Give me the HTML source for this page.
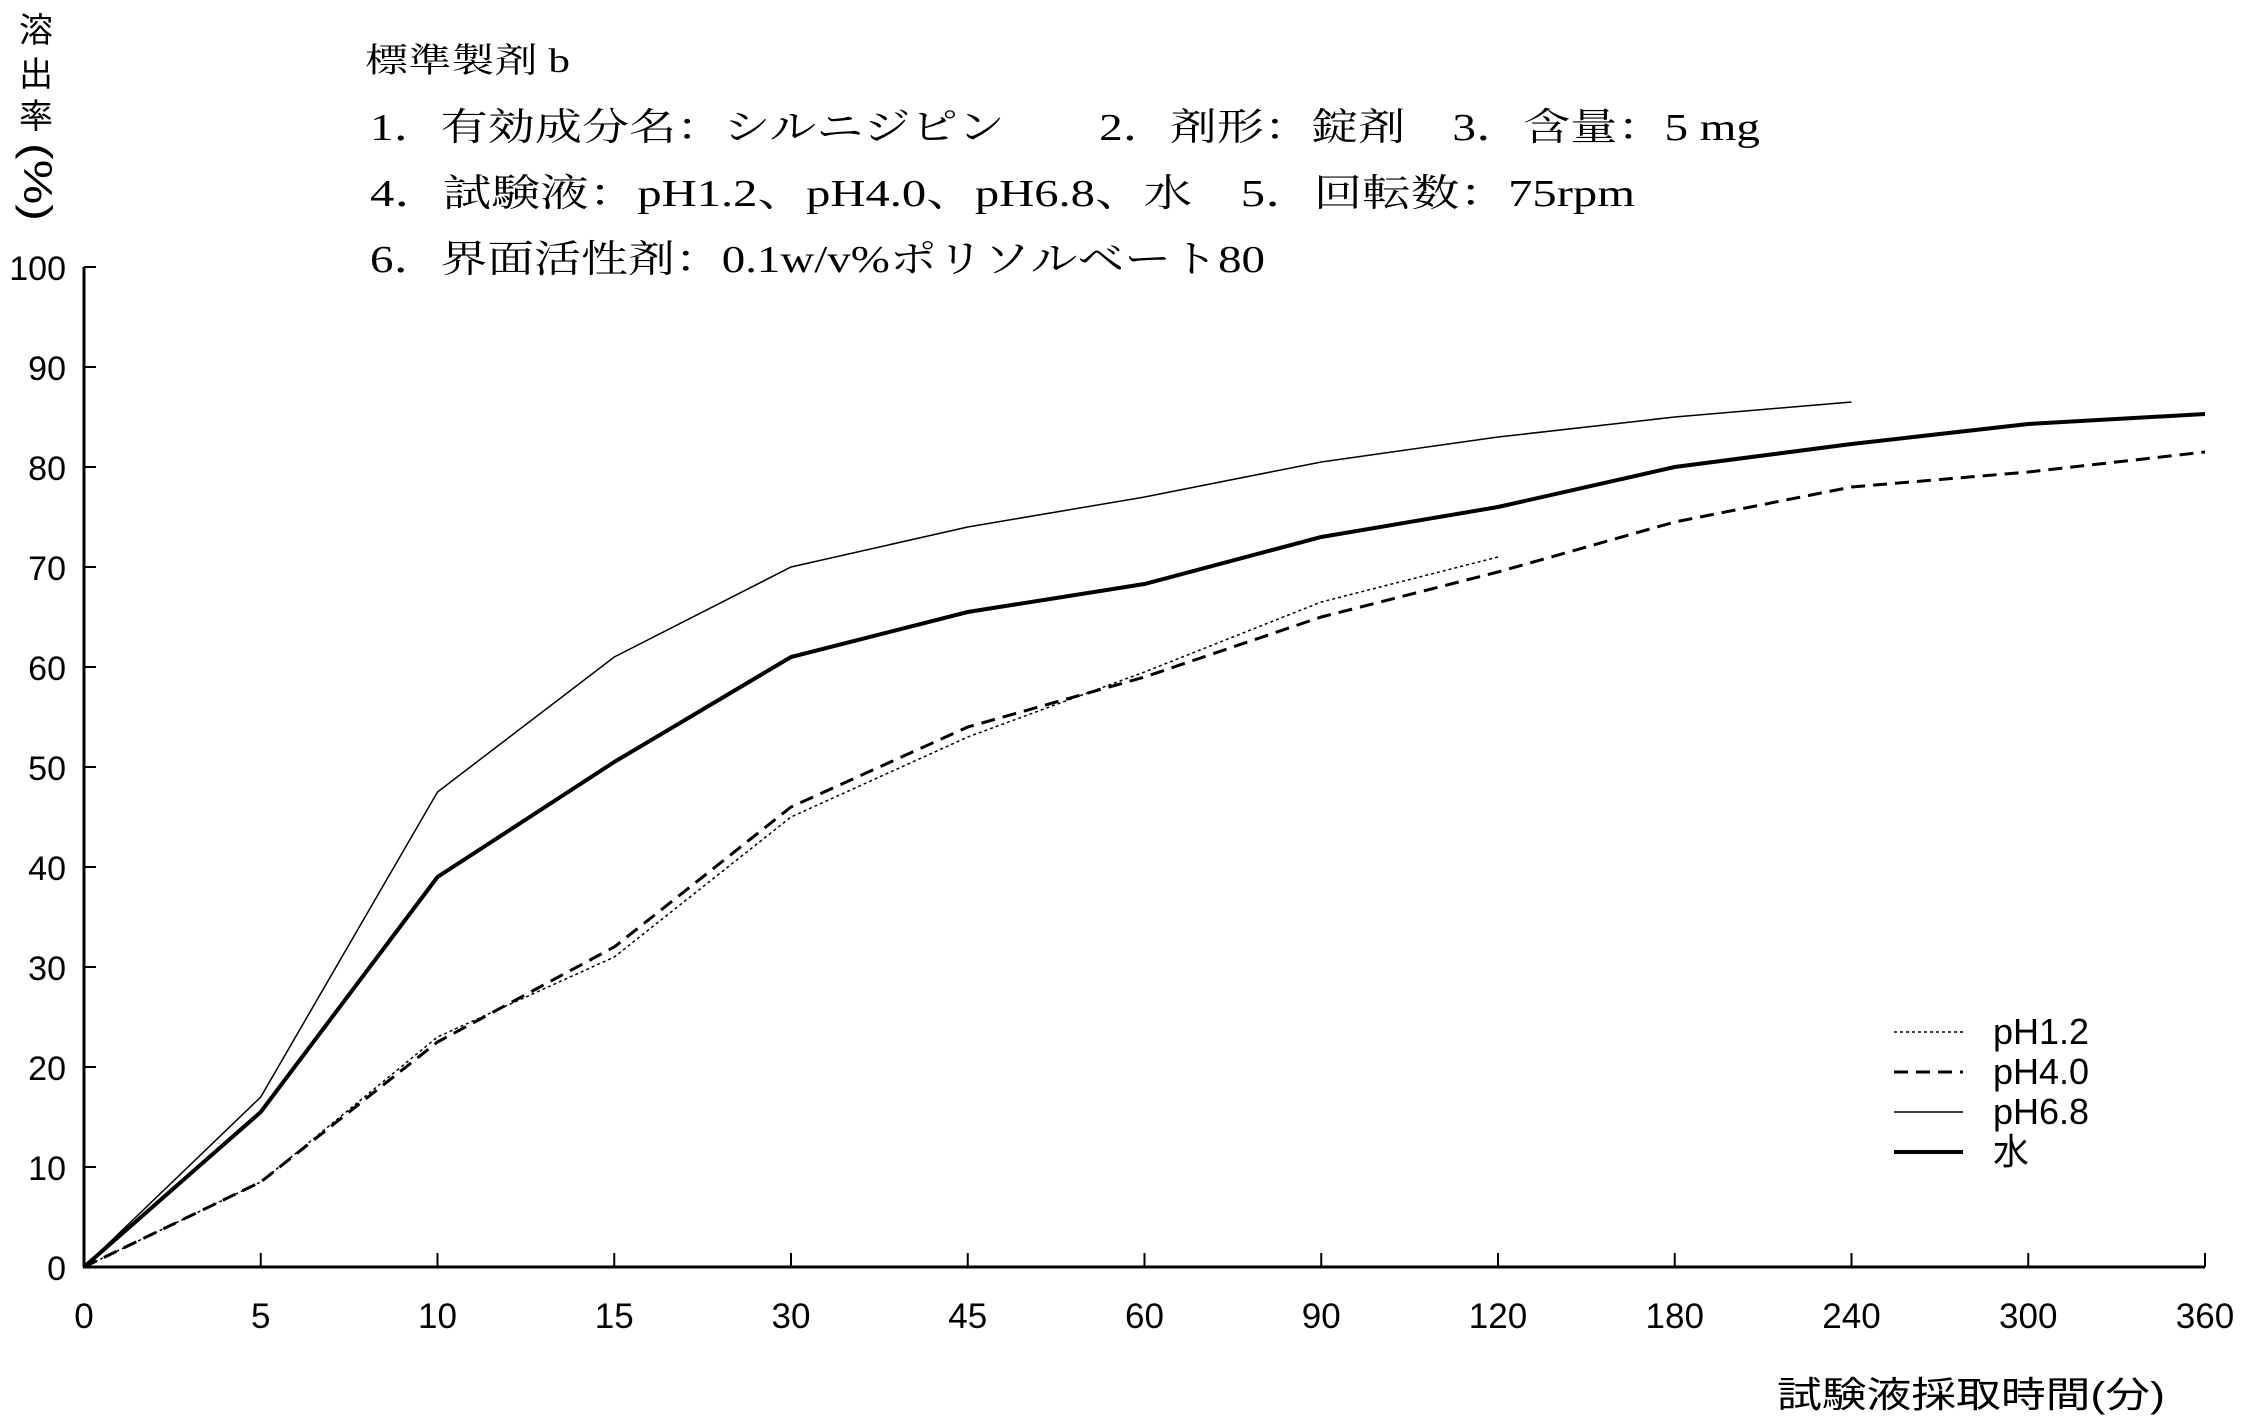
<!DOCTYPE html>
<html><head><meta charset="utf-8"><style>
html,body{margin:0;padding:0;background:#fff;}
svg{display:block;}
text{font-family:"Liberation Serif","Noto Serif CJK SC","Noto Sans CJK JP",serif;fill:#000;}
.t{font-family:"Liberation Sans","Noto Sans CJK JP",sans-serif;}
</style></head><body>
<svg width="2243" height="1417" viewBox="0 0 2243 1417" xmlns="http://www.w3.org/2000/svg">
<rect width="2243" height="1417" fill="#fff"/>
<!-- header -->
<text x="365" y="72" font-size="34" textLength="205" lengthAdjust="spacingAndGlyphs">標準製剤 b</text>
<text x="370" y="140" font-size="38" textLength="1390" lengthAdjust="spacingAndGlyphs">1．有効成分名：シルニジピン　　2．剤形：錠剤　3．含量：5 mg</text>
<text x="370" y="206" font-size="38" textLength="1265" lengthAdjust="spacingAndGlyphs">4．試験液：pH1.2、pH4.0、pH6.8、水　5．回転数：75rpm</text>
<text x="370" y="272" font-size="38" textLength="895" lengthAdjust="spacingAndGlyphs">6．界面活性剤：0.1w/v%ポリソルベート80</text>
<!-- y label -->
<g class="t" font-size="34" text-anchor="middle">
<text x="36" y="42" class="t">溶</text>
<text x="36" y="86" class="t">出</text>
<text x="36" y="128" class="t">率</text>
<text x="36" y="194" class="t" font-size="40" transform="rotate(90 36 182)" textLength="78" lengthAdjust="spacingAndGlyphs">(%)</text>
</g>
<!-- axes -->
<g stroke="#000" stroke-width="3" fill="none">
<line x1="84" y1="267" x2="84" y2="1267"/>
<line x1="83" y1="1267" x2="2205" y2="1267"/>
</g>
<g stroke="#000" stroke-width="2">
<line x1="84" y1="267" x2="96" y2="267"/>
<line x1="84" y1="367" x2="96" y2="367"/>
<line x1="84" y1="467" x2="96" y2="467"/>
<line x1="84" y1="567" x2="96" y2="567"/>
<line x1="84" y1="667" x2="96" y2="667"/>
<line x1="84" y1="767" x2="96" y2="767"/>
<line x1="84" y1="867" x2="96" y2="867"/>
<line x1="84" y1="967" x2="96" y2="967"/>
<line x1="84" y1="1067" x2="96" y2="1067"/>
<line x1="84" y1="1167" x2="96" y2="1167"/>
</g>
<g stroke="#000" stroke-width="2" id="xt"></g>
<g class="t" font-size="34" text-anchor="end">
<text x="66" y="280" class="t">100</text>
<text x="66" y="380" class="t">90</text>
<text x="66" y="480" class="t">80</text>
<text x="66" y="580" class="t">70</text>
<text x="66" y="680" class="t">60</text>
<text x="66" y="780" class="t">50</text>
<text x="66" y="880" class="t">40</text>
<text x="66" y="980" class="t">30</text>
<text x="66" y="1080" class="t">20</text>
<text x="66" y="1180" class="t">10</text>
<text x="66" y="1280" class="t">0</text>
</g>
<g id="xl" class="t" font-size="35" text-anchor="middle"></g>
<text x="1777" y="1407" font-size="36" class="t" textLength="388" lengthAdjust="spacingAndGlyphs">試験液採取時間(分)</text>
<g id="series" fill="none" stroke="#000"></g>
<!-- legend -->
<g stroke="#000" fill="none">
<line x1="1894" y1="1032" x2="1963" y2="1032" stroke-width="1.5" stroke-dasharray="3,3"/>
<line x1="1894" y1="1072" x2="1963" y2="1072" stroke-width="3" stroke-dasharray="14,8"/>
<line x1="1894" y1="1112" x2="1963" y2="1112" stroke-width="1.5"/>
<line x1="1894" y1="1152" x2="1963" y2="1152" stroke-width="4"/>
</g>
<g class="t" font-size="36">
<text x="1993" y="1044" class="t">pH1.2</text>
<text x="1993" y="1084" class="t">pH4.0</text>
<text x="1993" y="1124" class="t">pH6.8</text>
<text x="1993" y="1164" class="t">水</text>
</g>
<script>
var ns="http://www.w3.org/2000/svg";
var x0=84,dx=176.75,y0=1267,dy=10;
var labs=["0","5","10","15","30","45","60","90","120","180","240","300","360"];
var xt=document.getElementById("xt"),xl=document.getElementById("xl");
labs.forEach(function(l,i){var X=x0+i*dx;
 if(i>0){var ln=document.createElementNS(ns,"line");ln.setAttribute("x1",X);ln.setAttribute("x2",X);ln.setAttribute("y1",y0);ln.setAttribute("y2",y0-14);xt.appendChild(ln);}
 var t=document.createElementNS(ns,"text");t.setAttribute("x",X);t.setAttribute("y",1328);t.setAttribute("class","t");t.textContent=l;xl.appendChild(t);});
var S=[
 [[0,8.5,23,31,45,53,59.5,66.5,71],1.5,"3,3"],
 [[0,8.5,22.5,32,46,54,59,65,69.5,74.5,78,79.5,81.5],3,"14,8"],
 [[0,17,47.5,61,70,74,77,80.5,83,85,86.5],1.5,""],
 [[0,15.5,39,50.5,61,65.5,68.3,73,76,80,82.3,84.3,85.3],4,""]];
var g=document.getElementById("series");
S.forEach(function(s){var p=document.createElementNS(ns,"polyline");
 p.setAttribute("points",s[0].map(function(v,i){return (x0+i*dx)+","+(y0-v*dy)}).join(" "));
 p.setAttribute("stroke-width",s[1]);if(s[2])p.setAttribute("stroke-dasharray",s[2]);g.appendChild(p);});
</script>
</svg>
</body></html>
